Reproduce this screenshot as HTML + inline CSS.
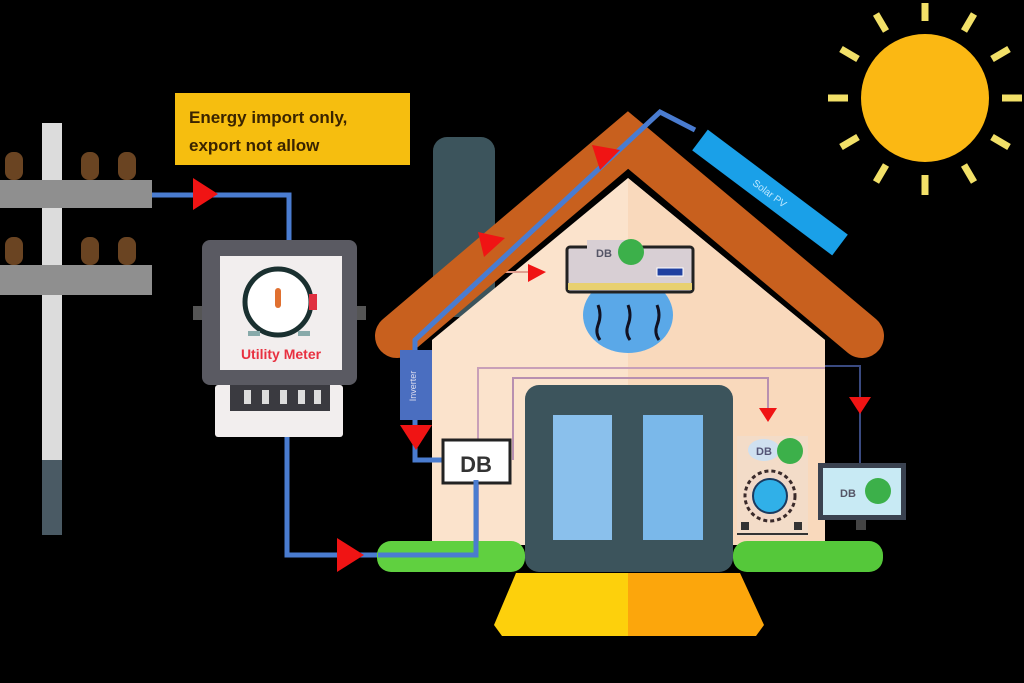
<!DOCTYPE html>
<html><head><meta charset="utf-8"><style>
html,body{margin:0;padding:0;background:#000;width:1024px;height:683px;overflow:hidden}
svg{display:block}
text{font-family:"Liberation Sans",sans-serif}
</style></head><body>
<svg width="1024" height="683" viewBox="0 0 1024 683" xmlns="http://www.w3.org/2000/svg">
<rect width="1024" height="683" fill="#000"/>
<!-- sun -->
<g stroke="#f2e068" stroke-width="7" stroke-linecap="butt">
<line x1="925" y1="21" x2="925" y2="3"/><line x1="925" y1="175" x2="925" y2="195"/>
<line x1="848" y1="98" x2="828" y2="98"/><line x1="1002" y1="98" x2="1022" y2="98"/>
<line x1="886" y1="31" x2="876" y2="14"/><line x1="964" y1="31" x2="974" y2="14"/>
<line x1="858" y1="59" x2="841" y2="49"/><line x1="992" y1="59" x2="1009" y2="49"/>
<line x1="858" y1="137" x2="841" y2="147"/><line x1="992" y1="137" x2="1009" y2="147"/>
<line x1="886" y1="165" x2="876" y2="182"/><line x1="964" y1="165" x2="974" y2="182"/>
</g>
<circle cx="925" cy="98" r="64" fill="#fbb813"/>
<!-- pole -->
<rect x="42" y="123" width="20" height="340" fill="#dcdcdc"/>
<rect x="42" y="460" width="20" height="75" fill="#4a5a64"/>
<rect x="0" y="180" width="152" height="28" fill="#8f8f8f"/>
<rect x="0" y="265" width="152" height="30" fill="#8f8f8f"/>
<g fill="#6a4422">
<rect x="5" y="152" width="18" height="28" rx="8"/><rect x="81" y="152" width="18" height="28" rx="8"/><rect x="118" y="152" width="18" height="28" rx="8"/>
<rect x="5" y="237" width="18" height="28" rx="8"/><rect x="81" y="237" width="18" height="28" rx="8"/><rect x="118" y="237" width="18" height="28" rx="8"/>
</g>
<!-- label -->
<rect x="175" y="93" width="235" height="72" fill="#f6be0f"/>
<text x="189" y="123" font-size="17" font-weight="bold" fill="#3a2400">Energy import only,</text>
<text x="189" y="151" font-size="17" font-weight="bold" fill="#3a2400">export not allow</text>
<!-- grid line -->
<polyline points="152,195 289,195 289,242" fill="none" stroke="#4a7cd0" stroke-width="5"/>
<polygon points="193,178 218,194 193,210" fill="#f01414"/>
<polyline points="287,437 287,555 378,555" fill="none" stroke="#4a7cd0" stroke-width="5"/>
<!-- meter -->
<rect x="193" y="306" width="12" height="14" fill="#555"/><rect x="354" y="306" width="12" height="14" fill="#555"/>
<rect x="202" y="240" width="155" height="145" rx="8" fill="#5a5a62"/>
<rect x="220" y="256" width="122" height="114" fill="#f2eeee"/>
<circle cx="278" cy="302" r="33" fill="#fff" stroke="#1a3030" stroke-width="5"/>
<rect x="309" y="294" width="8" height="16" fill="#e03040"/>
<rect x="275" y="288" width="6" height="20" rx="3" fill="#e07030"/>
<rect x="248" y="331" width="12" height="5" fill="#8aa"/><rect x="298" y="331" width="12" height="5" fill="#8aa"/>
<text x="281" y="359" font-size="14" font-weight="bold" fill="#e83040" text-anchor="middle">Utility Meter</text>
<rect x="215" y="385" width="128" height="52" rx="3" fill="#f2eeee"/>
<rect x="230" y="385" width="100" height="26" fill="#3a3a40"/>
<g fill="#ddd"><rect x="244" y="390" width="7" height="14"/><rect x="262" y="390" width="7" height="14"/><rect x="280" y="390" width="7" height="14"/><rect x="298" y="390" width="7" height="14"/><rect x="314" y="390" width="7" height="14"/></g>
<!-- chimney -->
<rect x="433" y="137" width="62" height="180" rx="14" fill="#3c545c"/>
<!-- house walls -->
<polygon points="432,340 628,178 825,340 825,545 432,545" fill="#fbe3cc"/>
<polygon points="628,178 825,340 825,545 628,545" fill="#f9d9bc"/>
<!-- inner wires -->
<polyline points="478,545 478,368 825,368" fill="none" stroke="#c8a0b8" stroke-width="2"/>
<polyline points="513,460 513,378 768,378 768,408" fill="none" stroke="#b890b0" stroke-width="2"/>
<polyline points="825,366 860,366 860,465" fill="none" stroke="#3a4a80" stroke-width="2"/>
<line x1="475" y1="272" x2="530" y2="272" stroke="#e0a090" stroke-width="2"/>
<!-- roof -->
<polyline points="397,336 628,140 862,336" fill="none" stroke="#c8601e" stroke-width="44" stroke-linejoin="miter" stroke-linecap="round"/>
<!-- solar panel -->
<line x1="700" y1="140" x2="840" y2="245" stroke="#1aa0e8" stroke-width="26"/>
<text x="770" y="197" font-size="10" fill="#bfe8ff" text-anchor="middle" transform="rotate(37 770 193)">Solar PV</text>
<!-- PV line -->
<polyline points="695,130 660,112 415,340 415,460 445,460" fill="none" stroke="#4a7cd0" stroke-width="5"/>
<polygon points="592,145 620,150 600,170" fill="#f01414"/>
<polygon points="478,232 505,238 484,257" fill="#f01414"/>
<polygon points="528,264 546,272 528,282" fill="#f01414"/>
<!-- inverter -->
<rect x="400" y="350" width="32" height="70" fill="#4a6ec0"/>
<text x="416" y="386" font-size="9" fill="#dde" text-anchor="middle" transform="rotate(-90 416 386)">Inverter</text>
<polygon points="400,425 432,425 416,450" fill="#f01414"/>
<!-- DB -->
<rect x="443" y="440" width="67" height="43" fill="#fff" stroke="#222" stroke-width="3"/>
<text x="476" y="472" font-size="22" font-weight="bold" fill="#333" text-anchor="middle">DB</text>
<polyline points="476,483 476,553 378,553" fill="none" stroke="#4a7cd0" stroke-width="5"/>
<!-- AC -->
<ellipse cx="628" cy="315" rx="45" ry="38" fill="#5aa8e8"/>
<g stroke="#112" stroke-width="3" fill="none"><path d="M598 305 q4 10 0 20 q-3 8 2 15"/><path d="M628 305 q4 10 0 20 q-3 8 2 15"/><path d="M657 305 q4 10 0 20 q-3 8 2 15"/></g>
<rect x="567" y="247" width="126" height="45" rx="3" fill="#d8cfd4" stroke="#222" stroke-width="3"/>
<rect x="568" y="283" width="124" height="7" fill="#e8d070"/>
<rect x="657" y="268" width="26" height="8" fill="#2040a0" stroke="#fff" stroke-width="1"/>
<rect x="587" y="240" width="40" height="12" fill="#d8cfd4"/>
<text x="604" y="257" font-size="11" font-weight="bold" fill="#556" text-anchor="middle">DB</text>
<circle cx="631" cy="252" r="13" fill="#3cb04a"/>
<!-- door -->
<rect x="525" y="385" width="208" height="187" rx="14" fill="#3c545c"/>
<rect x="553" y="415" width="59" height="125" fill="#8ac0ec"/>
<rect x="643" y="415" width="60" height="125" fill="#7ab8ea"/>
<!-- grass -->
<rect x="377" y="541" width="148" height="31" rx="14" fill="#60d040"/>
<rect x="733" y="541" width="150" height="31" rx="14" fill="#55c83a"/>
<polyline points="378,555 476,555 476,480" fill="none" stroke="#4a7cd0" stroke-width="5"/>
<polygon points="337,538 364,555 337,572" fill="#f01414"/>
<!-- path -->
<polygon points="516,573 628,573 628,636 502,636 494,625" fill="#fdd00c"/>
<polygon points="628,573 740,573 764,625 756,636 628,636" fill="#fca60c"/>
<!-- washing machine -->
<polygon points="759,408 777,408 768,422" fill="#f01414"/>
<rect x="737" y="436" width="71" height="100" fill="#f3dcc8"/>
<ellipse cx="764" cy="450" rx="16" ry="11" fill="#cfe0f0"/>
<text x="764" y="455" font-size="11" font-weight="bold" fill="#557" text-anchor="middle">DB</text>
<circle cx="790" cy="451" r="13" fill="#3cb04a"/>
<circle cx="770" cy="496" r="25" fill="#f0d8c8" stroke="#3a2a2a" stroke-width="3" stroke-dasharray="4 3"/>
<circle cx="770" cy="496" r="17" fill="#30b0e8" stroke="#1a3a60" stroke-width="2"/>
<rect x="741" y="522" width="8" height="8" fill="#333"/><rect x="794" y="522" width="8" height="8" fill="#333"/>
<line x1="737" y1="534" x2="808" y2="534" stroke="#333" stroke-width="2"/>
<!-- TV -->
<polygon points="849,397 871,397 860,414" fill="#f01414"/>
<rect x="818" y="463" width="88" height="57" fill="#3a4250"/>
<rect x="823" y="468" width="78" height="47" fill="#c8eaf4"/>
<text x="848" y="497" font-size="11" font-weight="bold" fill="#556" text-anchor="middle">DB</text>
<circle cx="878" cy="491" r="13" fill="#3cb04a"/>
<rect x="856" y="520" width="10" height="10" fill="#444"/>
</svg>
</body></html>
